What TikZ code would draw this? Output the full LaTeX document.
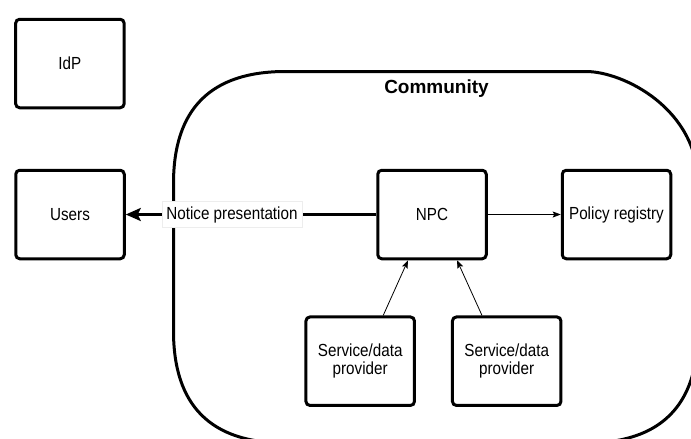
\documentclass[tikz,border=0pt]{standalone}
\usepackage{fontspec}
\setmainfont{Liberation Sans}[FakeStretch=0.87]
\newfontfamily\commfont{Liberation Sans}
\usetikzlibrary{arrows.meta}
\tikzset{
  box/.style={draw=black, line width=3pt, rounded corners=4pt, fill=white,
    minimum width=108.5pt, minimum height=88.5pt, inner sep=0pt, align=center,
    font=\fontsize{17.5}{18.5}\selectfont},
  thickarrow/.style={draw=black, line width=2.5pt, -{Stealth[length=15pt,width=13pt,inset=3pt]}},
  thinarrow/.style={draw=black, line width=0.8pt, -{Stealth[length=8pt,width=6pt,inset=1.5pt]}},
  container/.style={draw=black, line width=3pt},
  lbl/.style={fill=white, draw=black!7, line width=0.5pt, inner xsep=4.5pt, inner ysep=5pt,
    font=\fontsize{17.5}{18.5}\selectfont}
}
\begin{document}
\begin{tikzpicture}[x=1pt,y=-1pt]
\useasboundingbox (0,0) rectangle (691,439);
% container
\draw[container] (173.5,183.5) .. controls (173.5,108.83) and (210.83,71.5) .. (285.5,71.5)
  -- (586,71.5) .. controls (623.33,71.5) and (698,108.83) .. (698,183.5)
  -- (698,331) .. controls (698,405.67) and (660.67,443) .. (586,443)
  -- (285.5,443) .. controls (210.83,443) and (173.5,405.67) .. (173.5,331)
  -- cycle;
\node[font=\commfont\bfseries\fontsize{19}{22}\selectfont] (comm) at (436.5,89) {Community};
% boxes
\node[box] (idp) at (69.9,63.5) {IdP};
\node[box] (users) at (70,214.5) {Users};
\node[box] (npc) at (432,214.5) {NPC};
\node[box] (policy) at (616.5,214.5) {Policy registry};
\node[box] (sdp1) at (360.2,361.2) {Service/data\\provider};
\node[box] (sdp2) at (506.7,361.2) {Service/data\\provider};
% connectors
\draw[thickarrow] (npc.west) -- node[lbl, pos=0.576] (np) {Notice presentation} (users.east);
\draw[thinarrow] (npc.east) -- (policy.west);
\draw[thinarrow] ([xshift=23pt]sdp1.north) -- ([xshift=-24pt]npc.south);
\draw[thinarrow] ([xshift=-24.7pt]sdp2.north) -- ([xshift=25pt]npc.south);
\end{tikzpicture}
\end{document}
